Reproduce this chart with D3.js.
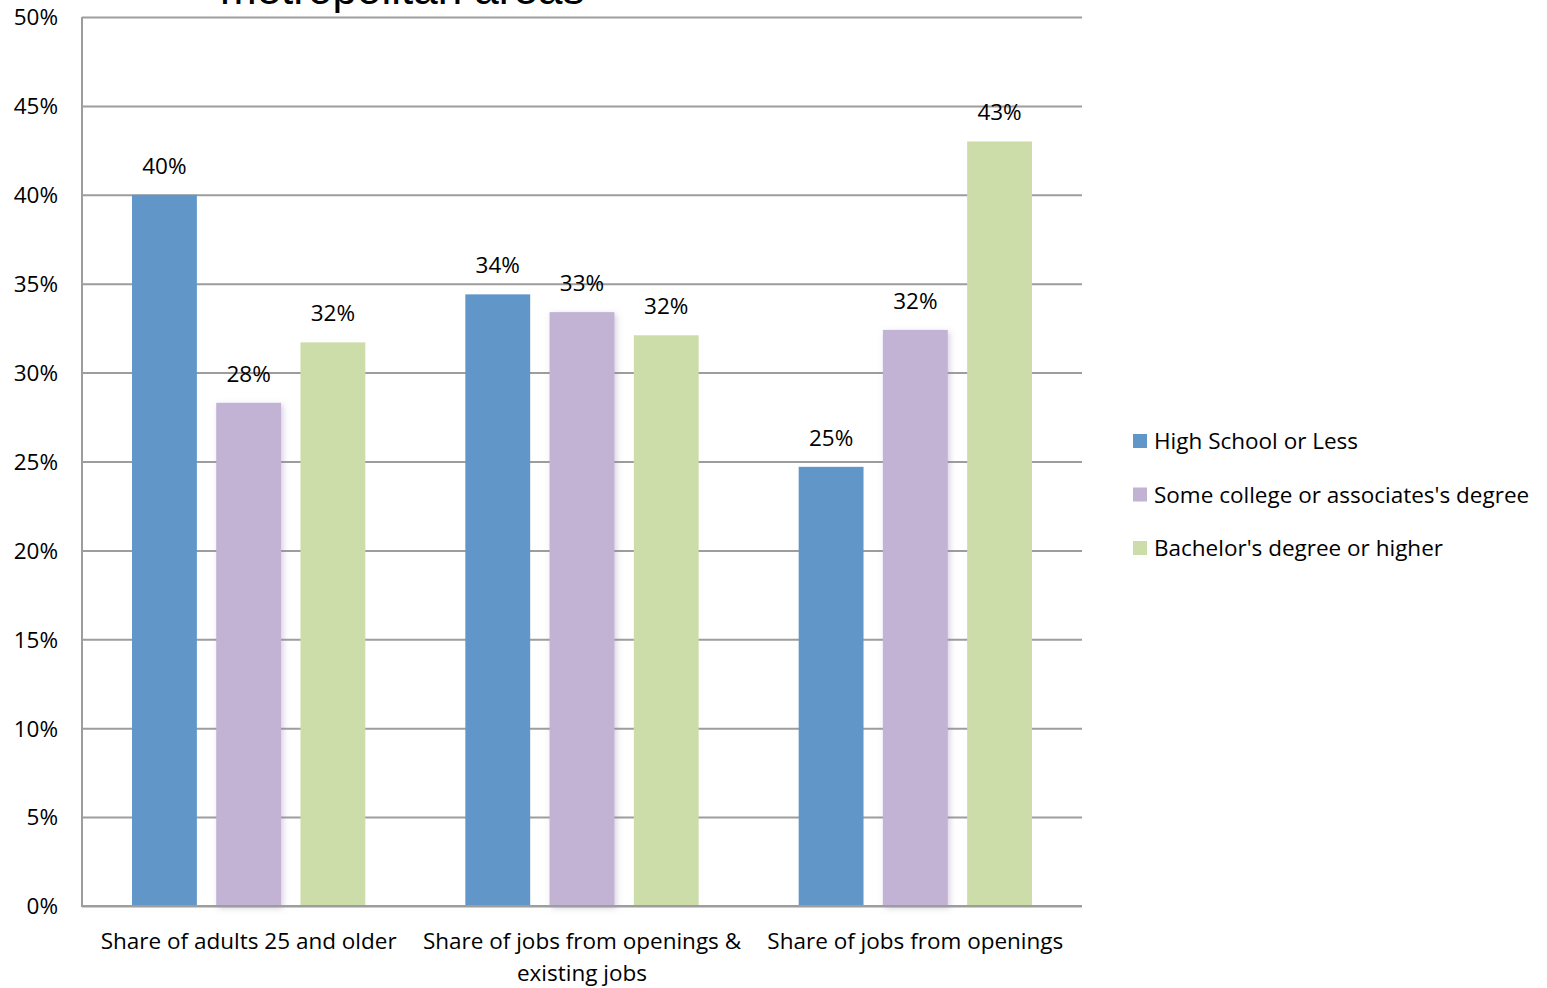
<!DOCTYPE html>
<html>
<head>
<meta charset="utf-8">
<script src="https://cdn.jsdelivr.net/npm/d3@7"></script>
<style>
  html, body { margin: 0; padding: 0; background: #fff; }
  svg { display: block; }
  text { font-family: "Open Sans", Lato, sans-serif; fill: #000; }
</style>
</head>
<body>
<svg id="chart" width="1547" height="988"></svg>
<script>
// Categories along the x axis (second one wraps onto two lines)
const categories = [
  ["Share of adults 25 and older"],
  ["Share of jobs from openings &", "existing jobs"],
  ["Share of jobs from openings"]
];
const seriesNames = [
  "High School or Less",
  "Some college or associates's degree",
  "Bachelor's degree or higher"
];
const seriesColors = ["#6196C9", "#C2B2D4", "#CDDDAA"];

// Share (%) by category, one array per series
const highSchool   = [40.0, 34.4, 24.7];
const someCollege  = [28.3, 33.4, 32.4];
const bachelors    = [31.7, 32.1, 43.0];
const seriesValues = [highSchool, someCollege, bachelors];

const yTicks = [0, 5, 10, 15, 20, 25, 30, 35, 40, 45, 50];
const titleText = "metropolitan areas";

const svg = d3.select("#chart");
const plot = { left: 82, right: 1082, top: 17, bottom: 906 };
const fs = "22.5px";

const y = d3.scaleLinear().domain([0, 50]).range([plot.bottom, plot.top]);
const x0 = d3.scaleBand().domain(d3.range(categories.length))
  .range([plot.left, plot.right]).padding(0);
const groupPad = 50;
const x1 = d3.scaleBand().domain(d3.range(seriesNames.length))
  .range([groupPad, x0.bandwidth() - groupPad]).paddingInner(0.23).paddingOuter(0);

// soft shadow used on the middle series
const defs = svg.append("defs");
const f = defs.append("filter").attr("id", "soft").attr("x", "-30%").attr("y", "-10%")
  .attr("width", "160%").attr("height", "130%");
f.append("feDropShadow").attr("dx", 2).attr("dy", 2).attr("stdDeviation", 3)
  .attr("flood-color", "#8a76a8").attr("flood-opacity", 0.35);

// title (its upper part sits above the visible area)
svg.append("text")
  .attr("x", 220).attr("y", 4)
  .style("font-family", '"Liberation Sans", Arial, sans-serif')
  .style("font-size", "44px")
  .text(titleText);

// horizontal gridlines
const yAxis = d3.axisLeft(y).tickValues(yTicks).tickSize(0).tickPadding(24)
  .tickFormat(d => d + "%");
const grid = d3.axisLeft(y).tickValues(yTicks).tickSize(-(plot.right - plot.left)).tickFormat("");
svg.append("g").attr("transform", `translate(${plot.left},0)`).call(grid)
  .call(g => g.select(".domain").remove())
  .call(g => g.selectAll("line").attr("stroke", "#9d9d9d").attr("stroke-width", 2));

// bars
const groups = svg.append("g").selectAll("g")
  .data(categories.map((c, i) => i))
  .join("g")
  .attr("transform", i => `translate(${x0(i)},0)`);

groups.selectAll("rect")
  .data(ci => seriesValues.map((vals, si) => ({ si, v: vals[ci] })))
  .join("rect")
  .attr("x", d => x1(d.si))
  .attr("width", x1.bandwidth())
  .attr("y", d => y(d.v))
  .attr("height", d => y(0) - y(d.v))
  .attr("fill", d => seriesColors[d.si])
  .attr("filter", d => d.si === 1 ? "url(#soft)" : null);

groups.selectAll("text.val")
  .data(ci => seriesValues.map((vals, si) => ({ si, v: vals[ci] })))
  .join("text")
  .attr("class", "val")
  .attr("x", d => x1(d.si) + x1.bandwidth() / 2)
  .attr("y", d => y(d.v) - 21)
  .attr("text-anchor", "middle")
  .style("font-size", fs)
  .text(d => Math.round(d.v) + "%");

// axis frame lines
svg.append("line").attr("x1", plot.left).attr("x2", plot.left)
  .attr("y1", plot.top).attr("y2", plot.bottom)
  .attr("stroke", "#9d9d9d").attr("stroke-width", 2);
svg.append("line").attr("x1", plot.left - 1).attr("x2", plot.right)
  .attr("y1", plot.bottom).attr("y2", plot.bottom)
  .attr("stroke", "#9d9d9d").attr("stroke-width", 2);

// y tick labels
svg.append("g").attr("transform", `translate(${plot.left},0)`).call(yAxis)
  .call(g => g.select(".domain").remove())
  .call(g => g.selectAll("text").style("font-size", fs)
    .style("font-family", '"Open Sans", sans-serif').attr("fill", "#000").attr("dy", "0.35em"));

// x category labels
const xl = svg.append("g").selectAll("text")
  .data(categories)
  .join("text")
  .attr("x", (c, i) => x0(i) + x0.bandwidth() / 2)
  .attr("y", 949)
  .attr("text-anchor", "middle")
  .style("font-size", fs);
xl.selectAll("tspan").data(d => d).join("tspan")
  .attr("x", function () { return d3.select(this.parentNode).attr("x"); })
  .attr("dy", (d, i) => i === 0 ? 0 : 32)
  .text(d => d);

// legend
const legend = svg.append("g").attr("transform", "translate(1133,434)");
const li = legend.selectAll("g").data(seriesNames).join("g")
  .attr("transform", (d, i) => `translate(0,${i * 53.5})`);
li.append("rect").attr("width", 14).attr("height", 14)
  .attr("fill", (d, i) => seriesColors[i]);
li.append("text").attr("x", 21).attr("y", 15)
  .style("font-size", fs).text(d => d);
</script>
</body>
</html>
